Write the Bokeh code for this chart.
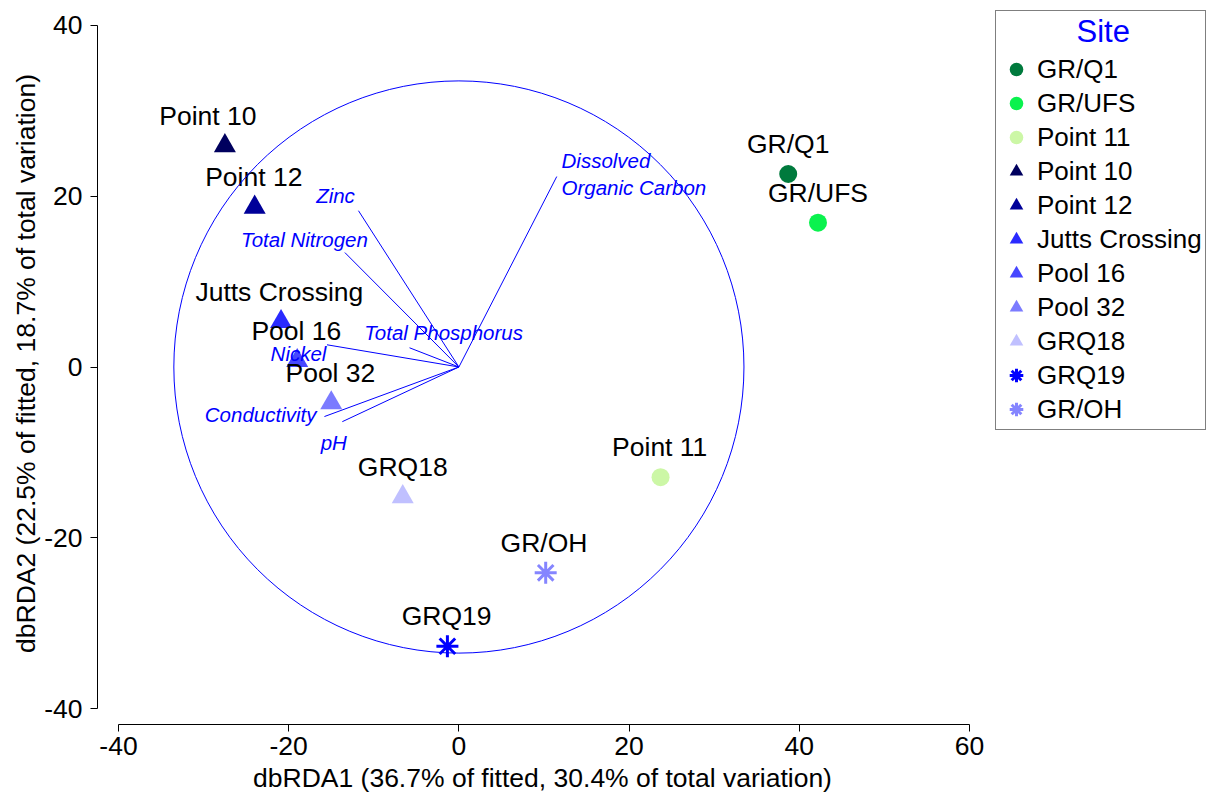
from bokeh.plotting import figure
from bokeh.models import Range1d, Legend, LegendItem, FixedTicker
from bokeh.embed import file_html
from bokeh.resources import INLINE
from bokeh.core.properties import value

# ---- data ----
sites = ["GR/Q1", "GR/UFS", "Point 11", "Point 10", "Point 12", "Jutts Crossing",
         "Pool 16", "Pool 32", "GRQ18", "GRQ19", "GR/OH"]
site_x = [38.7, 42.2, 23.7, -27.5, -24.0, -20.9, -19.0, -15.0, -6.6, -1.35, 10.2]
site_y = [22.6, 16.9, -12.9, 25.9, 18.7, 5.3, 0.75, -4.2, -15.2, -32.7, -24.1]
site_label_x = [38.7, 42.2, 23.6, -29.5, -24.1, -21.1, -19.1, -15.1, -6.6, -1.45, 10.0]
site_marker = ["circle", "circle", "circle", "triangle", "triangle", "triangle",
               "triangle", "triangle", "triangle", "asterisk", "asterisk"]
site_color = ["#007a3d", "#0af24e", "#ccf7a6", "#00005e", "#000099", "#2a2aff",
              "#4747ff", "#7b7bff", "#c0c0ff", "#0000ff", "#8585ff"]

env_vars = ["Zinc", "Total Nitrogen", "Total Phosphorus", "Nickel", "Conductivity", "pH"]
env_x = [-11.8, -13.4, -5.8, -15.5, -15.8, -13.7]
env_y = [18.3, 13.4, 2.25, 2.6, -5.8, -6.4]
env_label_x = [-14.5, -18.15, -1.8, -18.85, -23.3, -14.7]
env_label_y = [20.1, 14.93, 4.04, 1.58, -5.56, -8.84]

doc_name = "Dissolved\nOrganic Carbon"
doc_x = [11.5]
doc_y = [22.3]
doc_label_x = [12.06]
doc_label_y = [22.6]

circle_radius = 33.5

x_ticks = [-40, -20, 0, 20, 40, 60]
y_ticks = [-40, -20, 0, 20, 40]
x_title = "dbRDA1 (36.7% of fitted, 30.4% of total variation)"
y_title = "dbRDA2 (22.5% of fitted, 18.7% of total variation)"
legend_title = "Site"

FONT = "Liberation Sans"
FS = "26.5px"
marker_size = {"circle": 18, "triangle": 22, "asterisk": 22}

p = figure(frame_width=890, frame_height=722, output_backend="svg", toolbar_location=None,
           x_range=Range1d(-42.47, 62.12), y_range=Range1d(-41.86, 42.68),
           min_border_left=97, min_border_right=225, min_border_top=2, min_border_bottom=78)
p.outline_line_color = None
p.xgrid.visible = False
p.ygrid.visible = False

# site points
renderers = []
for i, s in enumerate(sites):
    m = site_marker[i]
    kw = dict(marker=m, size=marker_size[m])
    if m == "asterisk":
        kw.update(line_color=site_color[i], line_width=3)
    else:
        kw.update(fill_color=site_color[i], line_color=None)
    r = p.scatter(x=[site_x[i]], y=[site_y[i]], **kw)
    renderers.append(r)

# site labels
p.text(x=site_label_x, y=site_y, text=sites, text_align="center", text_baseline="middle",
       y_offset=-30, text_font=value(FONT), text_font_size=FS, text_color="black")

# correlation circle
p.ellipse(x=[0], y=[0], width=[2 * circle_radius], height=[2 * circle_radius],
          fill_color=None, line_color="blue", line_width=1)

# environmental vectors
p.segment(x0=[0] * len(env_x), y0=[0] * len(env_y), x1=env_x, y1=env_y,
          line_color="blue", line_width=1)
p.segment(x0=[0], y0=[0], x1=doc_x, y1=doc_y, line_color="blue", line_width=1)
p.text(x=env_label_x, y=env_label_y, text=env_vars, text_align="center",
       text_baseline="middle", text_font=value(FONT), text_font_size="20.5px",
       text_font_style="italic", text_color="blue")
p.text(x=doc_label_x, y=doc_label_y, text=[doc_name], text_align="left",
       text_baseline="middle", text_font=value(FONT), text_font_size="20.5px",
       text_font_style="italic", text_color="blue", text_line_height=1.2)

# axes
for ax, ticks, bounds in ((p.xaxis, x_ticks, (-40, 60)), (p.yaxis, y_ticks, (-40, 40))):
    ax.ticker = FixedTicker(ticks=ticks)
    ax.major_label_overrides = {t: str(t) for t in ticks}
    ax.bounds = bounds
    ax.axis_line_color = "black"
    ax.major_tick_line_color = "black"
    ax.major_tick_out = 7
    ax.major_tick_in = 0
    ax.minor_tick_line_color = None
    ax.major_label_text_font = FONT
    ax.major_label_text_font_size = FS
    ax.major_label_text_color = "black"
    ax.axis_label_text_font = FONT
    ax.axis_label_text_font_size = FS
    ax.axis_label_text_font_style = "normal"
    ax.axis_label_text_color = "black"
p.xaxis.axis_label = x_title
p.yaxis.axis_label = y_title
p.xaxis.major_label_standoff = 5
p.xaxis.axis_label_standoff = 5
p.yaxis.major_label_standoff = 8
p.yaxis.axis_label_standoff = 0

legend = Legend(items=[LegendItem(label=s, renderers=[renderers[i]]) for i, s in enumerate(sites)],
                location="top_left", margin=8, padding=3, spacing=0,
                glyph_width=34, glyph_height=34, label_height=26, label_standoff=4,
                title="\u00a0" * 9 + legend_title, title_text_color="blue", title_text_font=FONT,
                title_text_font_size="31px", title_text_font_style="normal",
                title_standoff=2,
                label_text_font=FONT, label_text_font_size="26px", label_text_color="black",
                border_line_color="black", border_line_width=1, background_fill_alpha=1)
p.add_layout(legend, "right")

open("out.html", "w").write(file_html(p, INLINE))
